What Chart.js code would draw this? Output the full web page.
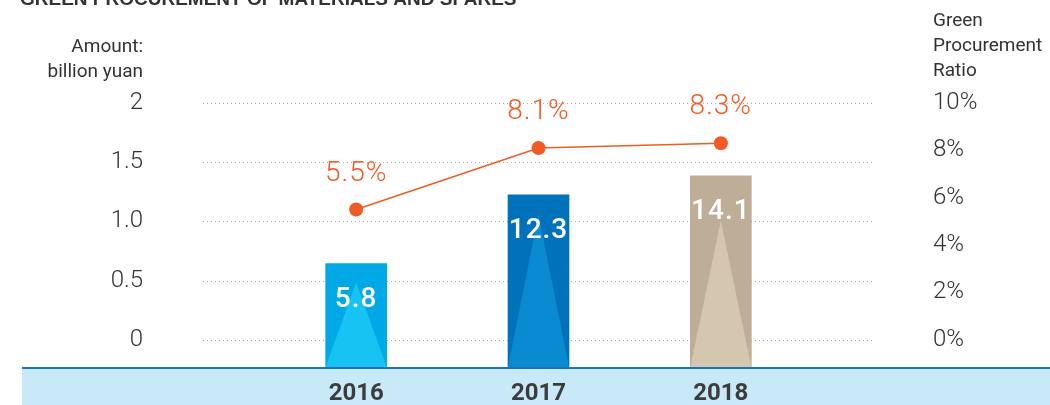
<!DOCTYPE html>
<html>
<head>
<meta charset="utf-8">
<script src="https://cdn.jsdelivr.net/npm/chart.js@4.4.1/dist/chart.umd.min.js"></script>
<style>
  html, body { margin: 0; padding: 0; background: #ffffff; }
  #wrap { width: 1050px; height: 405px; position: relative; }
</style>
</head>
<body>
<div id="wrap"><canvas id="chart" width="1050" height="405"></canvas></div>
<script>
// Green procurement of materials and spares, 2016-2018
const categories = ['2016', '2017', '2018'];
const amounts = [5.8, 12.3, 14.1];          // billion yuan
const ratios = [5.5, 8.1, 8.3];             // green procurement ratio, %
const amountTicks = [0, 0.5, 1.0, 1.5, 2];
const amountTickLabels = ['0', '0.5', '1.0', '1.5', '2'];
const ratioTicks = [0, 2, 4, 6, 8, 10];
const ratioTickLabels = ['0%', '2%', '4%', '6%', '8%', '10%'];

const chartTitle = 'GREEN PROCUREMENT OF MATERIALS AND SPARES';
const leftTitle = ['Amount:', 'billion yuan'];
const rightTitle = ['Green', 'Procurement', 'Ratio'];

const barColors = ['#00a9e5', '#0071bb', '#bead97'];
const barGlow = ['#17c3f3', '#0a8ad1', '#d5c6b0'];
const glowTipDrop = [19, 20, 45];            // how far below the bar top each highlight tip sits
const lineColor = '#f15a24';
const textColor = '#333333';
const FONT = 'Roboto, "Noto Sans", sans-serif';

// light band under the plot with the dark rule on top
const backdrop = {
  id: 'backdrop',
  beforeDraw(chart) {
    const { ctx, chartArea, width, height } = chart;
    ctx.save();
    ctx.fillStyle = '#c7e9f8';
    ctx.fillRect(22, chartArea.bottom, width - 22, height - chartArea.bottom);
    ctx.fillStyle = '#1b74bf';
    ctx.fillRect(22, chartArea.bottom, width - 22, 2);
    ctx.restore();
  },
  // dotted grid lines at the amount ticks, running a little past the plot on both sides
  beforeDatasetsDraw(chart) {
    const { ctx, chartArea } = chart;
    const yA = chart.scales.yAmt;
    ctx.save();
    ctx.strokeStyle = '#a9a9a9';
    ctx.lineWidth = 1;
    ctx.setLineDash([1, 3]);
    yA.ticks.forEach(t => {
      const y = Math.round(yA.getPixelForValue(t.value)) + 0.5;
      ctx.beginPath();
      ctx.moveTo(chartArea.left - 62, y);
      ctx.lineTo(chartArea.right + 62, y);
      ctx.stroke();
    });
    ctx.restore();
  }
};

// lighter triangle inside each bar, value label, and text outside the plot
const decorations = {
  id: 'decorations',
  afterDatasetDraw(chart, args) {
    const { ctx } = chart;
    const ds = chart.data.datasets[args.index];
    if (ds.type !== 'bar') return;
    ctx.save();
    args.meta.data.forEach((bar, i) => {
      const p = bar.getProps(['x', 'y', 'base', 'width'], true);
      ctx.fillStyle = barGlow[i];
      ctx.beginPath();
      ctx.moveTo(p.x - p.width / 2, p.base);
      ctx.lineTo(p.x + p.width / 2, p.base);
      ctx.lineTo(p.x, p.y + glowTipDrop[i]);
      ctx.closePath();
      ctx.fill();
    });
    ctx.fillStyle = '#ffffff';
    ctx.font = '500 28px ' + FONT;
    ctx.letterSpacing = '1px';
    ctx.textAlign = 'center';
    ctx.textBaseline = 'middle';
    args.meta.data.forEach((bar, i) => {
      const p = bar.getProps(['x', 'y'], true);
      ctx.fillText(amounts[i].toFixed(1), p.x, p.y + 36);
    });
    ctx.restore();
  },
  afterDraw(chart) {
    const { ctx } = chart;
    ctx.save();
    // ratio labels above the points
    const lineMeta = chart.getDatasetMeta(0);
    ctx.fillStyle = lineColor;
    ctx.font = '300 28px ' + FONT;
    ctx.letterSpacing = '1px';
    ctx.textAlign = 'center';
    ctx.textBaseline = 'middle';
    lineMeta.data.forEach((pt, i) => {
      ctx.fillText(ratios[i].toFixed(1) + '%', pt.x, pt.y - 36);
    });
    ctx.letterSpacing = '0px';

    // heading, clipped at the top edge
    ctx.fillStyle = textColor;
    ctx.font = 'bold 19px "Liberation Sans", Arial, sans-serif';
    ctx.textAlign = 'left';
    ctx.textBaseline = 'alphabetic';
    ctx.fillText(chartTitle, 20, 5);

    // axis titles
    ctx.font = '19px ' + FONT;
    ctx.textBaseline = 'middle';
    const yA = chart.scales.yAmt;
    ctx.textAlign = 'right';
    leftTitle.forEach((s, i) => ctx.fillText(s, yA.right - yA.options.ticks.padding, 47 + i * 25));
    const yR = chart.scales.yRatio;
    ctx.textAlign = 'left';
    rightTitle.forEach((s, i) => ctx.fillText(s, yR.left + yR.options.ticks.padding, 21 + i * 25));
    ctx.restore();
  }
};

// fixed axis width; keep the wide label gap from inflating the top/bottom padding
function sideAxisFit(width) {
  return (s) => { s.width = width; s.paddingTop = 12; s.paddingBottom = 12; };
}

new Chart(document.getElementById('chart'), {
  data: {
    labels: categories,
    datasets: [
      {
        type: 'line',
        label: 'Green Procurement Ratio',
        data: ratios,
        yAxisID: 'yRatio',
        order: 0,
        borderColor: lineColor,
        borderWidth: 1.5,
        pointRadius: 7,
        pointHoverRadius: 7,
        pointBackgroundColor: lineColor,
        pointBorderWidth: 0,
        tension: 0
      },
      {
        type: 'bar',
        label: 'Amount',
        data: amounts,
        yAxisID: 'yBar',
        order: 1,
        base: -4,
        backgroundColor: barColors,
        barThickness: 61,
        borderWidth: 0
      }
    ]
  },
  options: {
    responsive: false,
    animation: false,
    layout: { padding: { top: 103, left: 0, right: 0, bottom: 0 } },
    plugins: { legend: { display: false }, tooltip: { enabled: false }, title: { display: false } },
    scales: {
      x: {
        type: 'category',
        offset: true,
        grid: { display: false, drawTicks: false },
        border: { display: false },
        ticks: { color: '#3c3c3c', font: { family: FONT, size: 24, weight: 'bold' }, padding: 13, maxRotation: 0 },
        afterFit(s) { s.height = 38; }
      },
      yAmt: {
        type: 'linear',
        position: 'left',
        min: -0.23,
        max: 2,
        grid: { display: false, drawTicks: false },
        border: { display: false },
        ticks: {
          color: textColor,
          autoSkip: false,
          font: { family: FONT, size: 24, weight: 300 },
          padding: 122,
          callback: (v) => amountTickLabels[amountTicks.indexOf(v)]
        },
        afterBuildTicks(s) { s.ticks = amountTicks.map(v => ({ value: v })); },
        afterFit: sideAxisFit(265)
      },
      yBar: {
        type: 'linear',
        display: false,
        min: -4,
        max: 21
      },
      yRatio: {
        type: 'linear',
        position: 'right',
        min: -1.15,
        max: 10,
        grid: { display: false, drawTicks: false },
        border: { display: false },
        ticks: {
          color: textColor,
          autoSkip: false,
          font: { family: FONT, size: 24, weight: 300 },
          padding: 121,
          callback: (v) => ratioTickLabels[ratioTicks.indexOf(v)]
        },
        afterBuildTicks(s) { s.ticks = ratioTicks.map(v => ({ value: v })); },
        afterFit: sideAxisFit(238)
      }
    }
  },
  plugins: [backdrop, decorations]
});
</script>
</body>
</html>
